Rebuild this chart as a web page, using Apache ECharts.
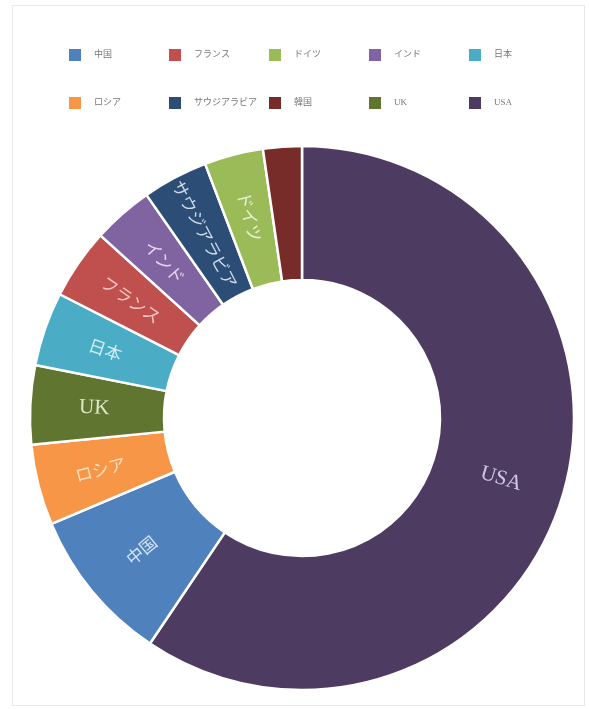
<!DOCTYPE html>
<html>
<head>
<meta charset="utf-8">
<script src="https://cdn.jsdelivr.net/npm/echarts@6/dist/echarts.min.js"></script>
<style>
html,body{margin:0;padding:0;background:#fff;}
#chart{width:589px;height:709px;}
</style>
</head>
<body>
<div id="chart"></div>
<script>
// Slices, clockwise from 12 o'clock (share of total, %)
const categories = ['USA', '中国', 'ロシア', 'UK', '日本', 'フランス', 'インド', 'サウジアラビア', 'ドイツ', '韓国'];
const values     = [59.5, 9.2, 4.8, 4.7, 4.4, 4.2, 3.6, 3.9, 3.5, 2.3];
// Legend order as shown
const legendNames = ['中国', 'フランス', 'ドイツ', 'インド', '日本', 'ロシア', 'サウジアラビア', '韓国', 'UK', 'USA'];

const colorMap = {
  '中国': '#4F81BD', 'フランス': '#C0504D', 'ドイツ': '#9BBB59', 'インド': '#8064A2', '日本': '#4BACC6',
  'ロシア': '#F79646', 'サウジアラビア': '#2C4D75', '韓国': '#772C2A', 'UK': '#5F7530', 'USA': '#4D3B62'
};
const labelColorMap = {
  '中国': '#d5e3f5', 'フランス': '#f5c9c7', 'ドイツ': '#e6f0d3', 'インド': '#e0d5ee', '日本': '#d2eef6',
  'ロシア': '#fde0c4', 'サウジアラビア': '#cdd8e8', '韓国': '#e8c5c4', 'UK': '#dfe9c8', 'USA': '#d3c8e4'
};

const isLatin = s => /^[A-Za-z]+$/.test(s);

const chart = echarts.init(document.getElementById('chart'), null, {renderer: 'canvas'});

const legends = legendNames.map((n, i) => ({
  data: [n],
  left: 67 + (i % 5) * 100,
  top: i < 5 ? 47 : 95,
  padding: 0,
  itemWidth: 14,
  itemHeight: 14,
  icon: 'rect',
  selectedMode: false,
  textStyle: {
    color: '#777',
    fontSize: 9,
    fontFamily: 'Liberation Serif, "Noto Sans CJK JP"',
    padding: [0, 0, 0, 7]
  }
}));

chart.setOption({
  backgroundColor: '#ffffff',
  animation: false,
  graphic: [{
    type: 'rect',
    shape: {x: 12.5, y: 5.5, width: 572, height: 700},
    style: {fill: 'none', stroke: '#e8e8e8', lineWidth: 1},
    silent: true
  }],
  legend: legends,
  series: [{
    type: 'pie',
    center: [302, 418],
    radius: [138, 272],
    startAngle: 90,
    clockwise: true,
    avoidLabelOverlap: false,
    minShowLabelAngle: 10,
    itemStyle: {borderColor: '#ffffff', borderWidth: 2.5},
    label: {
      show: true,
      position: 'inside',
      rotate: 'radial',
      formatter: '{b}'
    },
    labelLine: {show: false},
    emphasis: {disabled: true},
    data: categories.map((c, i) => ({
      name: c,
      value: values[i],
      itemStyle: {color: colorMap[c]},
      label: {
        color: labelColorMap[c],
        fontSize: isLatin(c) ? 21 : 17,
        fontFamily: isLatin(c) ? '"Liberation Serif", serif' : '"Noto Sans CJK JP", sans-serif'
      }
    }))
  }]
});
</script>
</body>
</html>
